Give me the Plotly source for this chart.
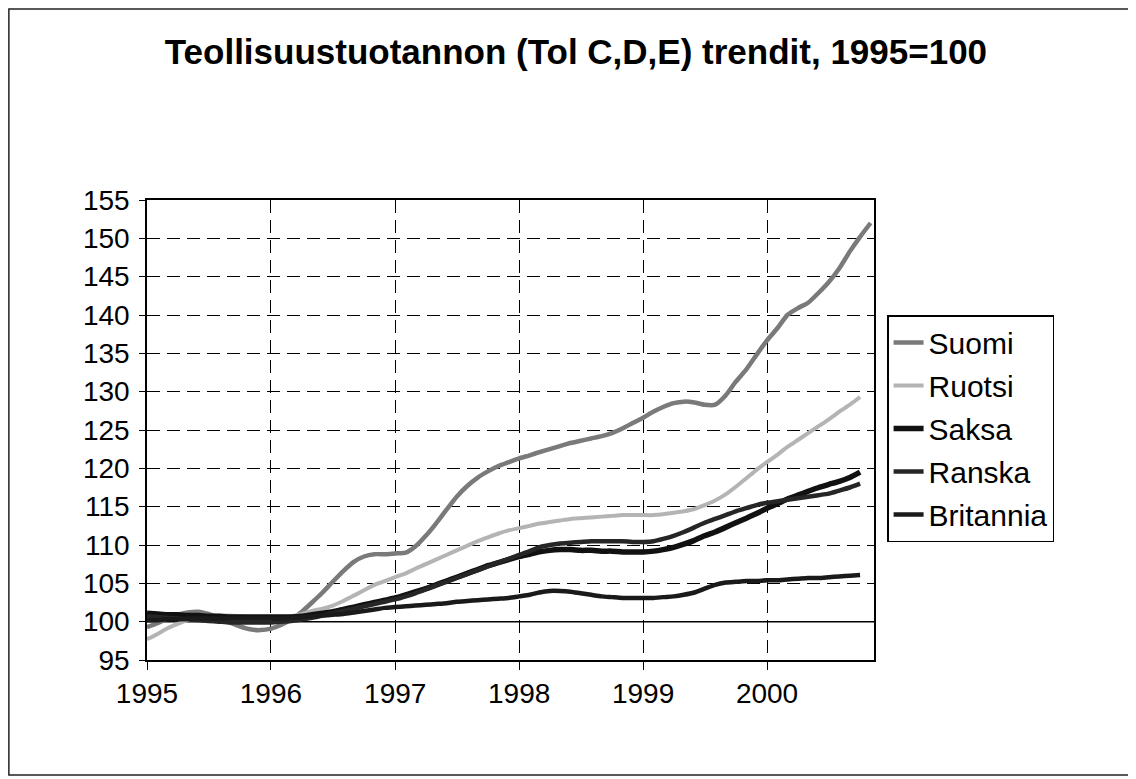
import pandas as pd
import plotly.graph_objects as go

months = pd.date_range("1995-01-01", periods=71, freq="MS")

series_names = ["Suomi", "Ruotsi", "Saksa", "Ranska", "Britannia"]

suomi = [99.3, 99.8, 100.4, 100.9, 101.2, 101.3, 101.0, 100.5, 99.9, 99.4, 99.0, 98.9,
         99.1, 99.6, 100.3, 101.3, 102.5, 103.8, 105.2, 106.6, 107.8, 108.5, 108.8, 108.8,
         108.9, 109.0, 109.8, 111.2, 112.8, 114.6, 116.3, 117.7, 118.8, 119.6, 120.3, 120.8,
         121.3, 121.7, 122.1, 122.5, 122.9, 123.3, 123.6, 123.9, 124.2, 124.6, 125.2, 125.9,
         126.6, 127.4, 128.0, 128.5, 128.7, 128.6, 128.3, 128.3, 129.5, 131.3, 132.9, 134.8,
         136.7, 138.3, 140.0, 140.9, 141.6, 142.9, 144.3, 146.1, 148.3, 150.2, 152.0]

ruotsi = [97.7, 98.4, 99.1, 99.7, 100.2, 100.5, 100.7, 100.8, 100.8, 100.7, 100.6, 100.5,
          100.4, 100.5, 100.7, 101.0, 101.4, 101.7, 102.1, 102.7, 103.4, 104.1, 104.8, 105.3,
          105.8, 106.3, 106.9, 107.5, 108.1, 108.7, 109.3, 109.9, 110.5, 111.0, 111.5, 111.9,
          112.2, 112.5, 112.8, 113.0, 113.2, 113.4, 113.5, 113.6, 113.7, 113.8, 113.9, 113.9,
          113.9, 113.9, 114.0, 114.2, 114.4, 114.7, 115.2, 115.8, 116.6, 117.6, 118.7, 119.8,
          120.8, 121.8, 122.8, 123.7, 124.6, 125.5, 126.4, 127.4, 128.3, 129.3]

saksa = [101.1, 101.0, 100.9, 100.9, 100.8, 100.8, 100.7, 100.7, 100.6, 100.6, 100.6, 100.6,
         100.6, 100.6, 100.6, 100.7, 100.9, 101.1, 101.3, 101.6, 101.9, 102.2, 102.5, 102.8,
         103.1, 103.5, 103.9, 104.3, 104.8, 105.3, 105.8, 106.3, 106.8, 107.3, 107.7, 108.1,
         108.5, 108.8, 109.1, 109.3, 109.4, 109.4, 109.3, 109.3, 109.2, 109.2, 109.1, 109.1,
         109.1, 109.2, 109.4, 109.7, 110.1, 110.6, 111.2, 111.7, 112.3, 112.9, 113.5, 114.1,
         114.8, 115.4, 116.0, 116.5, 117.0, 117.5, 117.9, 118.3, 118.8, 119.5]

ranska = [100.7, 100.6, 100.5, 100.4, 100.3, 100.2, 100.1, 100.0, 99.9, 99.9, 99.9, 99.9,
          99.9, 100.0, 100.1, 100.3, 100.5, 100.8, 101.1, 101.4, 101.7, 102.0, 102.3, 102.6,
          102.9, 103.3, 103.7, 104.2, 104.7, 105.2, 105.7, 106.2, 106.7, 107.2, 107.7, 108.2,
          108.7, 109.2, 109.7, 110.0, 110.2, 110.3, 110.4, 110.5, 110.5, 110.5, 110.5, 110.4,
          110.4, 110.5, 110.8, 111.2, 111.7, 112.3, 112.9, 113.4, 113.9, 114.4, 114.8, 115.2,
          115.5, 115.7, 115.9, 116.1, 116.3, 116.5, 116.7, 117.1, 117.5, 118.0]

britannia = [100.2, 100.2, 100.3, 100.3, 100.4, 100.4, 100.4, 100.4, 100.4, 100.4, 100.4, 100.4,
             100.4, 100.4, 100.5, 100.6, 100.7, 100.8, 100.9, 101.0, 101.2, 101.4, 101.6, 101.8,
             101.9, 102.0, 102.1, 102.2, 102.3, 102.4, 102.6, 102.7, 102.8, 102.9, 103.0, 103.1,
             103.3, 103.5, 103.8, 104.0, 104.0, 103.9, 103.7, 103.5, 103.3, 103.2, 103.1, 103.1,
             103.1, 103.1, 103.2, 103.3, 103.5, 103.8, 104.3, 104.8, 105.1, 105.2, 105.3, 105.3,
             105.4, 105.4, 105.5, 105.6, 105.7, 105.7, 105.8, 105.9, 106.0, 106.1]

year_ticks = ["1995-01-01", "1996-01-01", "1997-01-01", "1998-01-01", "1999-01-01", "2000-01-01"]
year_labels = ["1995", "1996", "1997", "1998", "1999", "2000"]
y_ticks = list(range(95, 156, 5))

all_values = [suomi, ruotsi, saksa, ranska, britannia]
colors = ["#7a7a7a", "#b4b4b4", "#111111", "#262626", "#1a1a1a"]
widths = [4.5, 4, 5.5, 4.5, 4.5]

FONT = "Liberation Sans, Arial, Helvetica, sans-serif"

fig = go.Figure()
for name, vals, c, w in zip(series_names, all_values, colors, widths):
    fig.add_trace(go.Scatter(
        x=months[:len(vals)], y=vals, name=name, mode="lines",
        line=dict(color=c, width=w, shape="spline", smoothing=0.6),
        legendgroup=name,
    ))

fig.add_hline(y=100, line=dict(color="black", width=1.5), layer="below")

# outer frame of the chart
fig.add_shape(type="rect", xref="paper", yref="paper",
              x0=-0.19, x1=1.356, y0=-0.25, y1=1.415,
              line=dict(color="#222", width=1.5), layer="below")

fig.update_layout(
    width=1128, height=771,
    margin=dict(l=139, r=262, t=192, b=119),
    paper_bgcolor="white", plot_bgcolor="white",
    font=dict(family=FONT, color="black", size=28),
    title=dict(text="<b>Teollisuustuotannon (Tol C,D,E) trendit, 1995=100</b>",
               x=0.5035, xref="container", xanchor="center",
               y=0.943, yref="container", yanchor="middle",
               font=dict(size=35, family=FONT, color="black")),
    showlegend=True,
    legend=dict(x=1.018, xanchor="left", y=0.75, yanchor="top",
                bordercolor="black", borderwidth=1.5, bgcolor="white",
                font=dict(size=30, family=FONT, color="black"),
                tracegroupgap=1, itemwidth=30),
)

fig.update_xaxes(
    type="date", range=["1995-01-01", "2000-11-11"],
    tickvals=year_ticks, ticktext=year_labels,
    showgrid=True, gridcolor="black", gridwidth=1.2, griddash="13px,7px",
    showline=True, linecolor="black", linewidth=1.5, mirror=True,
    ticks="outside", ticklen=8, tickcolor="black", tickwidth=1.2,
    tickfont=dict(size=28, family=FONT, color="black"),
    zeroline=False,
)
fig.update_yaxes(
    range=[95, 155], tickvals=y_ticks,
    showgrid=True, gridcolor="black", gridwidth=1.2, griddash="13px,7px",
    showline=True, linecolor="black", linewidth=1.5, mirror=True,
    ticks="outside", ticklen=6, tickcolor="black", tickwidth=1.2,
    tickfont=dict(size=28, family=FONT, color="black"),
    ticklabelstandoff=4,
    zeroline=False,
)

fig.write_html("out.html")
